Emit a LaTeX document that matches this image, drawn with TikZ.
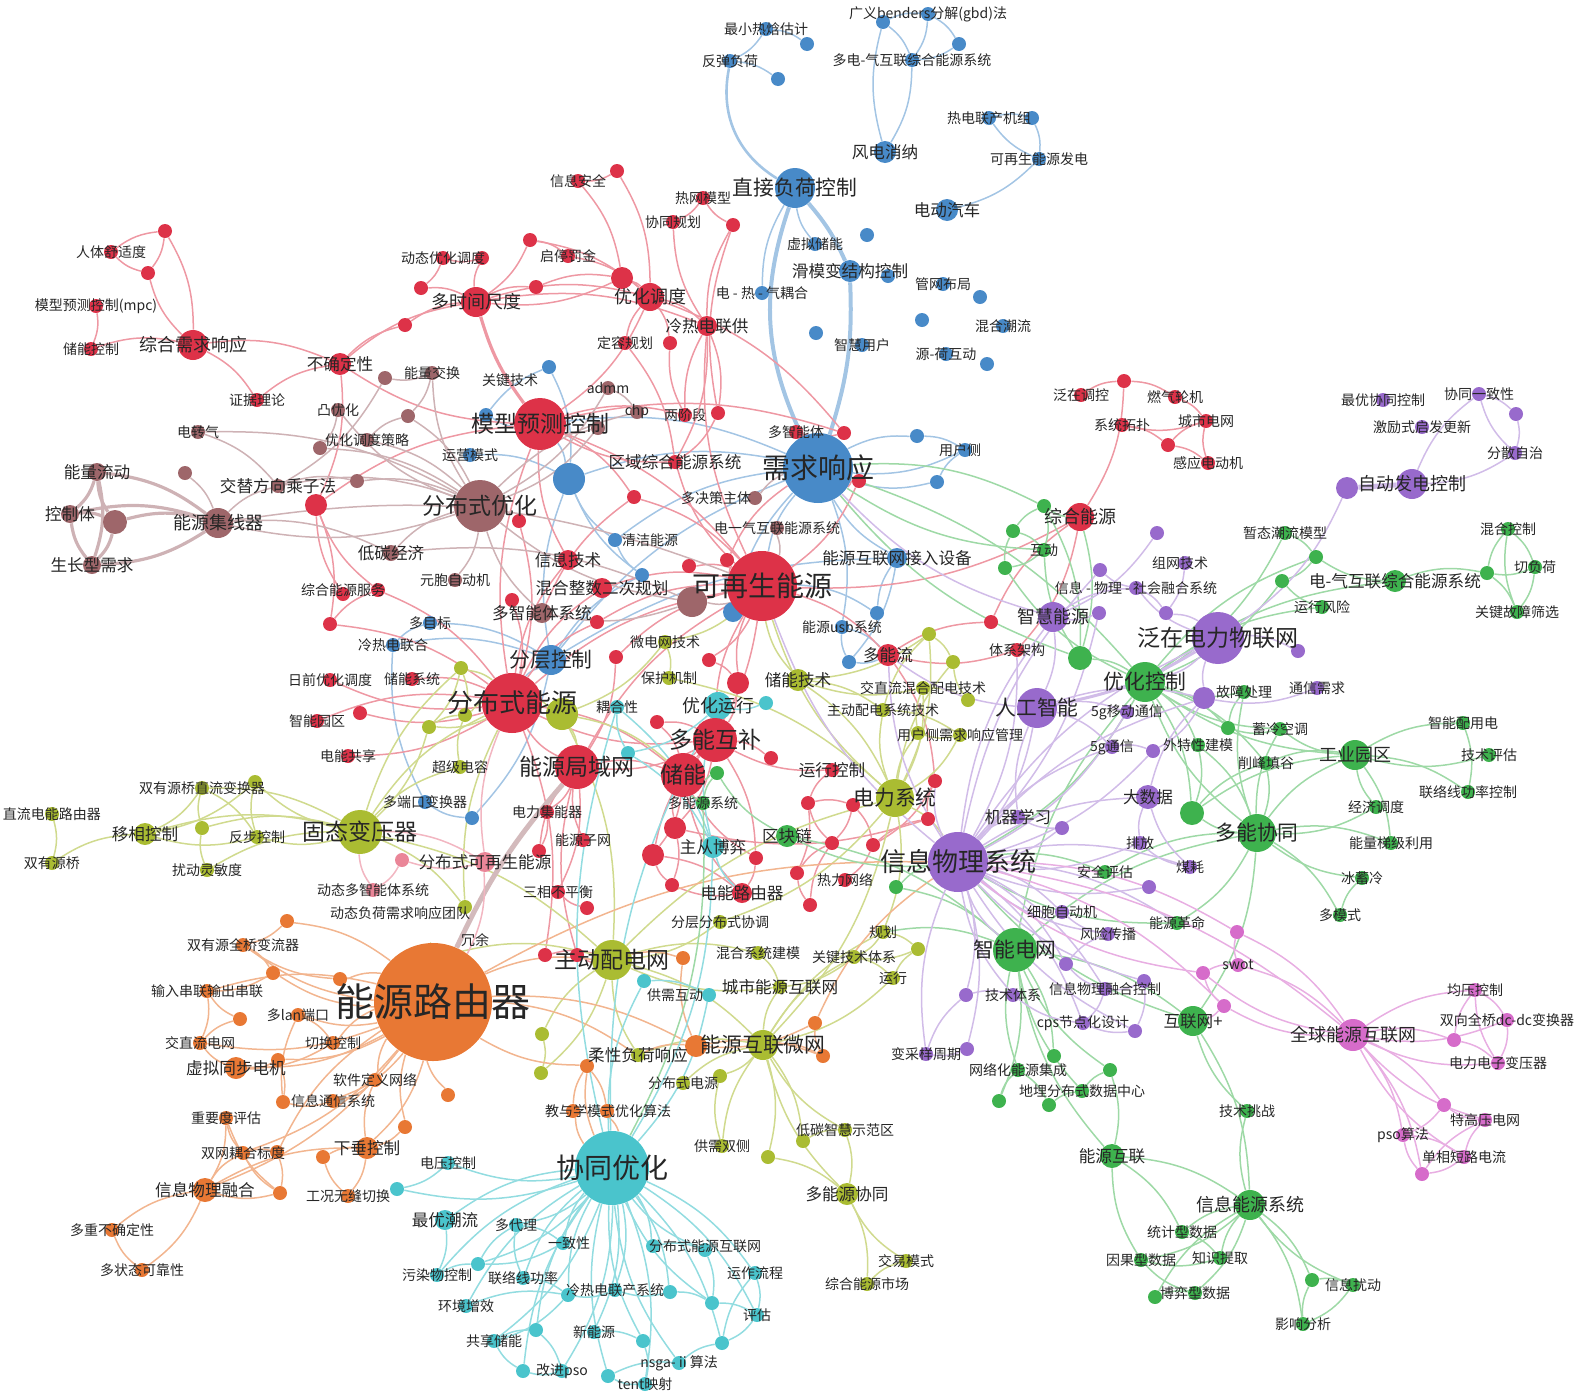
\documentclass[tikz,border=0pt]{standalone}
\usepackage{fontspec}
\newfontfamily\cjk{Noto Sans CJK SC}
\usetikzlibrary{positioning}
\pgfdeclarelayer{bg}
\pgfdeclarelayer{fg}
\pgfsetlayers{bg,main,fg}

\definecolor{cR}{RGB}{221,50,72}
\definecolor{cB}{RGB}{72,138,200}
\definecolor{cW}{RGB}{158,102,106}
\definecolor{cO}{RGB}{170,188,50}
\definecolor{cC}{RGB}{74,196,204}
\definecolor{cG}{RGB}{62,178,78}
\definecolor{cP}{RGB}{152,106,204}
\definecolor{cN}{RGB}{232,120,52}
\definecolor{cM}{RGB}{214,108,202}
\definecolor{cK}{RGB}{234,134,152}

% keyword: [label style]{name}{x,y}{dot style}{label}
\newcommand\kw[5][]{%
  \node[#4] (#2) at (#3) {};
  \begin{pgfonlayer}{fg}\node[tA,#1] at (#2) {#5};\end{pgfonlayer}}

\tikzset{
  dot/.style={circle, inner sep=0pt, minimum size=7pt, draw=none},
  sz/.style={minimum size=#1pt},
  dR/.style={dot, fill=cR}, dB/.style={dot, fill=cB}, dW/.style={dot, fill=cW},
  dO/.style={dot, fill=cO}, dC/.style={dot, fill=cC}, dG/.style={dot, fill=cG},
  dP/.style={dot, fill=cP}, dN/.style={dot, fill=cN}, dM/.style={dot, fill=cM},
  dK/.style={dot, fill=cK},
  tA/.style={inner sep=0pt, text=black!85, font=\cjk\fontsize{7}{8}\selectfont},
  tB/.style={font=\cjk\fontsize{8.3}{9}\selectfont},
  tC/.style={font=\cjk\fontsize{9}{10}\selectfont},
  tD/.style={font=\cjk\fontsize{10.4}{11}\selectfont},
  tE/.style={font=\cjk\fontsize{11.5}{12}\selectfont},
  tFs/.style={font=\cjk\fontsize{13}{14}\selectfont},
  tF/.style={font=\cjk\fontsize{14}{15}\selectfont},
  tG/.style={font=\cjk\fontsize{19.5}{20}\selectfont},
  eR/.style={draw=cR!50, line width=0.75pt},
  eB/.style={draw=cB!50, line width=0.75pt},
  eW/.style={draw=cW!50, line width=0.75pt},
  eO/.style={draw=cO!55, line width=0.75pt},
  eC/.style={draw=cC!60, line width=0.75pt},
  eG/.style={draw=cG!50, line width=0.75pt},
  eP/.style={draw=cP!45, line width=0.75pt},
  eN/.style={draw=cN!55, line width=0.75pt},
  eM/.style={draw=cM!55, line width=0.75pt},
  eK/.style={draw=cK!60, line width=0.75pt},
  eT/.style={draw=cW!45, line width=2.5pt},
}

\begin{document}
\begin{tikzpicture}[x=0.5pt,y=-0.5pt]
\useasboundingbox (0,0) rectangle (1575,1398);

% blue cluster
\node[dB] (gbd0) at (883,22) {};
\kw{gbd}{928,14}{dB}{广义benders分解(gbd)法}
\node[dB] (b1) at (959,44) {};
\kw{ddq}{912,60}{dB}{多电-气互联综合能源系统}
\kw{zxrh}{766,29}{dB}{最小热焓估计}
\node[dB] (b2) at (807,44) {};
\kw{ftfh}{730,61}{dB}{反弹负荷}
\node[dB] (b3) at (778,79) {};
\kw[tB]{fdxn}{885,152}{dB,sz=11}{风电消纳}
\kw{rdjz}{989,118}{dB}{热电联产机组}
\node[dB] (b4) at (1032,118) {};
\kw{kzfd}{1039,159}{dB}{可再生能源发电}
\kw[tB]{ddqc}{947,210}{dB,sz=11}{电动汽车}
\kw[tD]{zjfh}{795,188}{dB,sz=20}{直接负荷控制}
\kw{xncn}{815,244}{dB}{虚拟储能}
\node[dB] (b5) at (867,235) {};
\kw[tB]{hmbj}{850,271}{dB,sz=11}{滑模变结构控制}
\node[dB] (b6) at (888,276) {};
\kw{gwbj}{943,284}{dB}{管网布局}
\node[dB] (b7) at (980,297) {};
\node[dB] (b8) at (922,320) {};
\kw{hhcl}{1003,326}{dB}{混合潮流}
\node[dB] (b9) at (816,333) {};
\kw{zhyh}{862,345}{dB}{智慧用户}
\kw{yhhd}{946,354}{dB}{源-荷互动}
\node[dB] (b10) at (987,364) {};
\kw{drq}{762,293}{dB}{电 - 热 - 气耦合}
\kw[tF]{xqxy}{818,468}{dB,sz=35}{需求响应}
\node[dB] (b11) at (917,436) {};
\kw[xshift=-2.5pt]{yhc}{965,450}{dB}{用户侧}
\node[dB] (b12) at (937,482) {};
\kw[xshift=-19.5pt,yshift=-6.5pt]{gjjs}{549,367}{dB}{关键技术}
\node[dB] (b13) at (486,415) {};
\kw{yyms}{470,455}{dB}{运营模式}
\node[dB,sz=16] (b14) at (569,479) {};
\kw[xshift=17.5pt]{qjny}{615,540}{dB}{清洁能源}
\node[dB] (b15) at (642,575) {};
\node[dB,sz=10] (b16) at (733,612) {};
\kw[tD]{fcjz}{551,660}{dB,sz=15}{分层控制}
\kw{dmb}{430,623}{dB}{多目标}
\kw{lrdl}{393,645}{dB}{冷热电联合}
\kw{dkbh}{425,802}{dB}{多端口变换器}
\node[dB] (b17) at (472,818) {};
\kw[tB]{nyjr}{897,558}{dB,sz=10}{能源互联网接入设备}
\node[dB] (usb1) at (877,613) {};
\kw{usb}{842,627}{dB}{能源usb系统}
\node[dB] (b18) at (849,662) {};

% red and brown clusters
\kw{rtss}{111,252}{dR}{人体舒适度}
\node[dR] (r1) at (165,231) {};
\node[dR] (r2) at (148,273) {};
\kw{mpc}{96,306}{dR}{模型预测控制(mpc)}
\kw{cnkz}{91,349}{dR}{储能控制}
\kw[tC]{zhxq}{193,345}{dR,sz=15}{综合需求响应}
\kw[tB]{bqd}{340,364}{dR,sz=11}{不确定性}
\kw{zjll}{257,400}{dR}{证据理论}
\kw{tyh}{338,410}{dW}{凸优化}
\kw{dzq}{198,432}{dW}{电转气}
\kw{yhdc}{367,440}{dW}{优化调度策略}
\node[dW] (w1) at (320,448) {};
\node[dW] (w2) at (385,378) {};
\kw{nljh}{432,373}{dW}{能量交换}
\node[dW] (w3) at (408,416) {};
\kw[tC]{dsj}{476,302}{dR,sz=15}{多时间尺度}
\kw{dtyh}{443,258}{dR}{动态优化调度}
\node[dR] (r3) at (482,258) {};
\node[dR] (r4) at (421,288) {};
\node[dR] (r5) at (405,325) {};
\node[dR] (r6) at (530,240) {};
\kw{qtfj}{568,256}{dR}{启停罚金}
\node[dR] (r7) at (536,287) {};
\kw{xxaq}{578,181}{dR}{信息安全}
\node[dR] (r8) at (617,171) {};
\node[dR,sz=11] (r9) at (622,278) {};
\kw[tC]{yhdd}{650,297}{dR,sz=14}{优化调度}
\kw{rwmx}{703,198}{dR}{热网模型}
\kw{xtgh}{673,222}{dR}{协同规划}
\node[dR] (r10) at (733,225) {};
\kw[tB]{lrdg}{707,326}{dR,sz=10}{冷热电联供}
\kw{drgh}{625,343}{dR}{定容规划}
\node[dR] (r11) at (670,343) {};
\kw[tE]{mxyc}{540,424}{dR,sz=26}{模型预测控制}
\kw{admm}{608,388}{dW}{admm}
\kw{chp}{637,412}{dW}{chp}
\kw{ljd}{685,415}{dR}{两阶段}
\node[dR] (r12) at (718,413) {};
\node[dW] (w4) at (598,428) {};
\kw[tB]{qyzh}{675,462}{dR}{区域综合能源系统}
\kw[xshift=-19.5pt]{djc}{755,498}{dW}{多决策主体}
\kw{dqhl}{777,528}{dW}{电一气互联能源系统}
\node[dR] (r13) at (634,497) {};
\kw[tB]{xxjs}{568,560}{dR,sz=10}{信息技术}
\kw[tB]{hhzs}{602,588}{dR,sz=10}{混合整数二次规划}
\kw[tB]{dzxt}{542,613}{dW,sz=10}{多智能体系统}
\node[dR] (r14) at (512,600) {};
\node[dR] (r15) at (597,622) {};
\kw{ybzd}{455,580}{dW}{元胞自动机}
\kw[tB]{dtjj}{391,553}{dW,sz=8}{低碳经济}
\kw[tE]{fbyh}{480,506}{dW,sz=26}{分布式优化}
\node[dR] (r16) at (519,521) {};
\kw[tB]{jtfx}{278,486}{dW}{交替方向乘子法}
\node[dR,sz=11] (r17) at (316,505) {};
\node[dW] (w6) at (357,481) {};
\node[dW] (w7) at (185,473) {};
\kw[tC]{jxq}{218,523}{dW,sz=15}{能源集线器}
\kw[tB]{nlld}{97,472}{dW,sz=9}{能量流动}
\kw[tB]{kzt}{70,514}{dW,sz=9}{控制体}
\node[dW,sz=12] (w8) at (115,522) {};
\kw[tB]{szx}{92,565}{dW,sz=9}{生长型需求}
\kw[xshift=-17.5pt]{zhfw}{378,590}{dR}{综合能源服务}
\node[dR] (r18) at (343,594) {};
\node[dR] (r19) at (330,624) {};
\kw{rqyh}{330,680}{dR}{日前优化调度}
\kw{cnxt}{412,679}{dR}{储能系统}
\node[dR] (r20) at (360,713) {};
\kw{zyyq}{317,721}{dR}{智能园区}
\kw{dngx}{348,756}{dR}{电能共享}
\kw[tFs]{fbny}{512,703}{dR,sz=30}{分布式能源}
\node[dO,sz=16] (o1) at (562,714) {};
\node[dO] (o2) at (461,668) {};
\node[dO] (o3) at (429,727) {};
\node[dO] (o4) at (465,715) {};
\kw{ohx}{617,707}{dC}{耦合性}
\kw{wdjs}{665,642}{dO}{微电网技术}
\node[dR] (r21) at (616,657) {};
\node[dR] (r22) at (709,660) {};
\kw{bhjz}{669,678}{dO}{保护机制}
\node[dR,sz=11] (r23) at (738,683) {};
\kw[tC]{yhyx}{718,706}{dC,sz=14}{优化运行}
\kw[tE]{dnhb}{715,740}{dR,sz=22}{多能互补}
\node[dC] (c1) at (766,703) {};
\node[dR] (r24) at (657,722) {};
\kw[tE]{cn}{683,775}{dR,sz=22}{储能}
\node[dG] (g1) at (717,773) {};
\kw{dnyxt}{703,803}{dG}{多能源系统}
\kw[tE]{nyjy}{577,767}{dR,sz=22}{能源局域网}
\node[dC] (c2) at (628,753) {};
\node[dR] (r25) at (771,758) {};
\kw{cjdr}{460,767}{dO}{超级电容}
\kw{dljn}{547,812}{dR}{电力集能器}
\kw{nyzw}{583,840}{dR}{能源子网}
\node[dR] (r26) at (539,851) {};
\node[dR,sz=11] (r27) at (653,855) {};
\node[dR,sz=11] (r28) at (675,828) {};
\kw[tB]{fbkz}{485,862}{dK,sz=10}{分布式可再生能源}
\node[dK] (k1) at (402,860) {};
\kw[tB]{zcby}{713,847}{dC,sz=11}{主从博弈}
\node[dR] (r29) at (756,858) {};
\kw{sxbph}{558,892}{dR}{三相不平衡}
\node[dR] (r30) at (587,908) {};
\node[dR] (r31) at (672,885) {};
\kw[tB]{dnly}{742,893}{dR,sz=10}{电能路由器}
\kw{fcfb}{720,922}{dO}{分层分布式协调}
\kw{dtdz}{373,890}{dK}{动态多智能体系统}
\kw[xshift=-32.5pt,yshift=-3pt]{dtfh}{465,907}{dO}{动态负荷需求响应团队}
\kw[tF]{kzs}{762,586}{dR,sz=35}{可再生能源}
\node[dW,sz=15] (w9) at (692,602) {};
\node[dR] (r32) at (689,566) {};
\node[dR] (r33) at (727,560) {};
\kw[tB]{yxkz}{832,770}{dR}{运行控制}
\kw[tB]{dnl}{888,655}{dR,sz=11}{多能流}
\kw{txjg}{1017,650}{dR}{体系架构}
\node[dR] (r34) at (991,622) {};
\kw[tC]{zhny}{1080,517}{dR,sz=14}{综合能源}
\kw{fztk}{1081,395}{dR}{泛在调控}
\node[dR] (r35) at (1124,381) {};
\kw{rqlj}{1175,397}{dR}{燃气轮机}
\kw{xttp}{1122,425}{dR}{系统拓扑}
\kw{csdw}{1206,421}{dR}{城市电网}
\node[dR] (r36) at (1168,445) {};
\kw{gyddj}{1208,463}{dR}{感应电动机}
\node[dR] (r37) at (935,781) {};
\node[dR] (r38) at (928,819) {};
\node[dR] (r39) at (808,803) {};
\node[dR] (r40) at (853,805) {};
\node[dR] (r41) at (832,843) {};
\node[dR] (r42) at (873,845) {};
\node[dR] (r43) at (797,873) {};
\node[dR] (r44) at (810,905) {};
\kw{rlwl}{845,880}{dR}{热力网络}
\kw{dznt}{796,432}{dR}{多智能体}
\node[dR] (r47) at (844,433) {};
\node[dR] (r48) at (859,481) {};

% olive cluster
\kw[tE]{gtby}{360,832}{dO,sz=22}{固态变压器}
\node[dO] (syq1) at (255,782) {};
\kw{syq}{202,788}{dO}{双有源桥直流变换器}
\kw{zldn}{52,814}{dO}{直流电能路由器}
\kw{syyq}{52,863}{dO}{双有源桥}
\kw[tB]{yxkzO}{145,834}{dO,sz=11}{移相控制}
\node[dO] (o5) at (202,828) {};
\kw{fbkzO}{257,837}{dO}{反步控制}
\kw{rdlm}{207,870}{dO}{扰动灵敏度}
\kw[tE]{zdpd}{612,960}{dO,sz=20}{主动配电网}
\node[dR] (r45) at (545,955) {};
\node[dR] (r46) at (577,955) {};
\kw[xshift=16pt,yshift=8pt]{o6}{443,956}{dO}{冗余}
\kw[tB]{cshl}{780,987}{dO}{城市能源互联网}
\kw[xshift=-17pt]{gxhd}{709,995}{dC}{供需互动}
\node[dC] (c3) at (644,981) {};
\kw{hhjm}{758,953}{dO}{混合系统建模}
\kw[tD]{hlwl}{763,1045}{dO,sz=15}{能源互联微网}
\node[dO] (o7) at (542,1034) {};
\node[dO] (o8) at (541,1073) {};
\kw{fbdy}{683,1083}{dO}{分布式电源}
\node[dO] (o9) at (720,1076) {};
\kw{gxsc}{722,1146}{dO}{供需双侧}
\node[dO] (o10) at (768,1157) {};
\kw{gh}{883,932}{dO}{规划}
\kw{gjtx}{854,957}{dO}{关键技术体系}
\node[dO] (o11) at (918,949) {};
\kw{yx}{893,978}{dO}{运行}
\kw{dtzh}{845,1130}{dO}{低碳智慧示范区}
\node[dO] (o12) at (803,1141) {};
\kw[tB]{dnyx}{847,1194}{dO,sz=11}{多能源协同}
\kw{jyms}{906,1261}{dO}{交易模式}
\kw{zhsc}{867,1284}{dO}{综合能源市场}
\kw[tD]{dlxt}{895,798}{dO,sz=19}{电力系统}
\node[dO] (o13) at (929,634) {};
\node[dO] (o14) at (953,662) {};
\node[dO] (o15) at (968,700) {};
\kw{jzlh}{923,688}{dO}{交直流混合配电技术}
\kw{zdpx}{883,710}{dO}{主动配电系统技术}
\kw{yhcx}{960,735}{dO}{用户侧需求响应管理}
\node[dO] (o16) at (918,733) {};
\kw[tB]{cnjs}{798,680}{dO,sz=11}{储能技术}

% orange cluster
\kw[tG]{nyly}{433,1002}{dN,sz=59}{能源路由器}
\node[dN] (sqb1) at (287,921) {};
\kw{sqbl}{243,945}{dN}{双有源全桥变流器}
\node[dN] (n1) at (273,973) {};
\kw{srcl}{207,991}{dN}{输入串联输出串联}
\node[dN] (n2) at (240,1019) {};
\node[dN] (n3) at (340,979) {};
\kw{dlan}{298,1015}{dN}{多lan端口}
\kw{jzdw}{200,1043}{dN}{交直流电网}
\kw{qhkz}{333,1043}{dN}{切换控制}
\kw[tB]{xntb}{236,1068}{dN,sz=11}{虚拟同步电机}
\node[dN] (n4) at (278,1060) {};
\kw{rjdy}{375,1080}{dN}{软件定义网络}
\kw{xxtx}{333,1101}{dN}{信息通信系统}
\node[dN] (n5) at (283,1102) {};
\node[dN] (n6) at (448,1095) {};
\kw{zydp}{226,1118}{dN}{重要度评估}
\kw{swoh}{243,1153}{dN}{双网耦合标度}
\node[dN] (n7) at (277,1152) {};
\kw[tB]{xckz}{367,1148}{dN,sz=11}{下垂控制}
\node[dN] (n8) at (323,1157) {};
\node[dN] (n9) at (405,1127) {};
\kw[tB]{xxrh}{205,1190}{dN,sz=12}{信息物理融合}
\node[dN] (n10) at (280,1193) {};
\kw{gkwf}{348,1196}{dN}{工况无缝切换}
\node[dC] (c4) at (397,1189) {};
\kw{dcbq}{112,1230}{dN}{多重不确定性}
\kw{dzkk}{142,1270}{dN}{多状态可靠性}
\kw[tB]{rxfh}{638,1055}{dO}{柔性负荷响应}
\node[dN,sz=11] (n11) at (696,1046) {};
\node[dN] (n12) at (587,1066) {};
\kw[xshift=17.5pt]{jyx}{573,1111}{dN}{教与学模式优化算法}
\node[dN] (n13) at (607,1111) {};
\node[dN] (n14) at (683,958) {};
\node[dN] (n15) at (815,1023) {};
\node[dN] (n16) at (823,1056) {};

% cyan cluster
\kw[tF]{xtyh}{612,1168}{dC,sz=37}{协同优化}
\kw{dykz}{448,1163}{dC}{电压控制}
\kw[tB]{zycl}{445,1220}{dC,sz=10}{最优潮流}
\kw{ddl}{516,1225}{dC}{多代理}
\kw[xshift=3pt]{yzx}{563,1243}{dC}{一致性}
\kw[xshift=26pt]{fbnyh}{653,1246}{dC}{分布式能源互联网}
\node[dC] (c5) at (705,1250) {};
\kw{yzlc}{755,1273}{dC}{运作流程}
\kw{wrw}{437,1275}{dC}{污染物控制}
\node[dC] (c6) at (478,1264) {};
\kw{llxgl}{523,1278}{dC}{联络线功率}
\kw{lrcx}{615,1290}{dC}{冷热电联产系统}
\node[dC] (c7) at (568,1295) {};
\node[dC] (c8) at (670,1292) {};
\node[dC] (c9) at (712,1303) {};
\kw{pg}{757,1315}{dC}{评估}
\kw{hjzx}{466,1306}{dC}{环境增效}
\kw{gxcn}{494,1341}{dC}{共享储能}
\node[dC] (c10) at (536,1330) {};
\kw{xny}{594,1332}{dC}{新能源}
\node[dC] (c11) at (643,1341) {};
\node[dC] (c12) at (722,1343) {};
\kw{nsga}{679,1363}{dC}{nsga-ⅱ算法}
\kw{gjpso}{562,1371}{dC}{改进pso}
\node[dC] (c13) at (523,1371) {};
\kw{tent}{645,1384}{dC}{tent映射}
\node[dC] (c14) at (608,1376) {};

% purple cluster
\kw[tC]{zdfd}{1412,484}{dP,sz=15}{自动发电控制}
\node[dP,sz=11] (p1) at (1347,488) {};
\kw{zyxt}{1383,400}{dP}{最优协同控制}
\kw{xtyz}{1479,394}{dP}{协同一致性}
\node[dP] (p2) at (1516,414) {};
\kw{jlqf}{1422,427}{dP}{激励式启发更新}
\kw{fszz}{1515,453}{dP}{分散自治}
\kw[tC]{zhny2}{1053,617}{dP,sz=15}{智慧能源}
\node[dP] (p3) at (1157,533) {};
\kw[xshift=-2.5pt]{zwjs}{1185,563}{dP}{组网技术}
\kw{xwsh}{1136,588}{dP}{信息 - 物理 - 社会融合系统}
\node[dP] (p4) at (1100,570) {};
\node[dP] (p5) at (1099,613) {};
\node[dP] (p6) at (1166,613) {};
\kw[tE]{fzdl}{1218,638}{dP,sz=26}{泛在电力物联网}
\node[dP] (p7) at (1298,651) {};
\kw[tD]{rgzn}{1037,708}{dP,sz=20}{人工智能}
\kw{ydtx}{1127,712}{dP}{5g移动通信}
\kw{tx5g}{1112,747}{dP}{5g通信}
\node[dP] (p8) at (1153,751) {};
\node[dP,sz=11] (p9) at (1204,698) {};
\kw{txxq}{1317,688}{dP}{通信需求}
\kw{mh}{1190,867}{dP}{煤耗}
\kw{pf}{1140,843}{dP}{排放}
\kw[tB]{dsjP}{1148,797}{dP,sz=12}{大数据}
\node[dP] (p10) at (1062,828) {};
\kw[tB]{jqxx}{1018,817}{dP}{机器学习}
\node[dP] (p11) at (1149,887) {};
\kw[tFs]{xxwl}{958,862}{dP,sz=30}{信息物理系统}
\kw{xbzd}{1062,912}{dP}{细胞自动机}
\kw{fxcb}{1108,934}{dP}{风险传播}
\node[dP] (p12) at (1066,964) {};
\kw{jstx}{1013,995}{dP}{技术体系}
\kw{xxkz}{1105,989}{dP}{信息物理融合控制}
\node[dP] (p13) at (1144,981) {};
\kw{cps}{1083,1023}{dP}{cps节点化设计}
\node[dP] (p14) at (1135,1031) {};
\node[dP] (p15) at (966,995) {};
\kw{bcy}{926,1054}{dP}{变采样周期}
\node[dP] (p16) at (967,1049) {};

% green cluster
\node[dG] (g2) at (1044,506) {};
\kw{hd}{1044,550}{dG}{互动}
\node[dG] (g3) at (1013,531) {};
\node[dG] (g4) at (1005,568) {};
\node[dG,sz=12] (g5) at (1080,658) {};
\kw[tD]{yhkz}{1145,682}{dG,sz=20}{优化控制}
\kw{wtx}{1198,745}{dG}{外特性建模}
\kw{gzcl}{1244,692}{dG}{故障处理}
\node[dG] (g6) at (1228,728) {};
\kw{lkkt}{1280,729}{dG}{蓄冷空调}
\kw{xftg}{1266,763}{dG}{削峰填谷}
\kw[tC]{gyyq}{1355,755}{dG,sz=15}{工业园区}
\kw{znpy}{1463,723}{dG}{智能配用电}
\kw{jspg}{1489,755}{dG}{技术评估}
\kw{llxk}{1468,792}{dG}{联络线功率控制}
\kw{jjdd}{1376,807}{dG}{经济调度}
\kw{tjly}{1391,843}{dG}{能量梯级利用}
\kw[tD]{dnxt}{1257,833}{dG,sz=19}{多能协同}
\node[dG,sz=12] (g7) at (1192,813) {};
\kw{bxl}{1362,878}{dG}{冰蓄冷}
\kw{dms}{1340,915}{dG}{多模式}
\kw{aqpg}{1105,872}{dG}{安全评估}
\kw{nygm}{1177,923}{dG}{能源革命}
\kw[tB]{qkl}{787,836}{dG,sz=11}{区块链}
\node[dG] (g8) at (896,887) {};
\kw[tD]{zndw}{1015,950}{dG,sz=22}{智能电网}
\kw{wlnj}{1018,1070}{dG}{网络化能源集成}
\node[dG] (g9) at (1054,1056) {};
\kw{dmfb}{1082,1091}{dG}{地埋分布式数据中心}
\node[dG] (g10) at (1049,1105) {};
\node[dG] (g11) at (999,1101) {};
\node[dG] (g12) at (1110,1070) {};
\kw[tB]{hlw}{1193,1021}{dG,sz=15}{互联网+}
\kw[tB]{nyhl}{1112,1156}{dG,sz=12}{能源互联}
\kw{jstz}{1247,1111}{dG}{技术挑战}
\kw[tC]{xxny}{1250,1205}{dG,sz=15}{信息能源系统}
\kw{tjsj}{1182,1232}{dG}{统计型数据}
\kw{yglx}{1141,1260}{dG}{因果型数据}
\kw{zstq}{1220,1258}{dG}{知识提取}
\kw{bysj}{1195,1293}{dG}{博弈型数据}
\node[dG] (g13) at (1155,1297) {};
\kw{xxrd}{1353,1285}{dG}{信息扰动}
\node[dG] (g14) at (1312,1280) {};
\kw{yxfx}{1303,1324}{dG}{影响分析}
\kw[tB]{dqhl2}{1395,581}{dG,sz=11}{电-气互联综合能源系统}
\kw{zlcl}{1285,533}{dG}{暂态潮流模型}
\node[dG] (g15) at (1316,557) {};
\node[dG] (g16) at (1282,581) {};
\kw{yxfxR}{1322,607}{dG}{运行风险}
\kw{hhkz}{1508,529}{dG}{混合控制}
\node[dG] (g17) at (1487,573) {};
\kw{qfh}{1535,567}{dG}{切负荷}
\kw{gjgz}{1517,612}{dG}{关键故障筛选}

% magenta cluster
\kw[tC]{qqny}{1353,1035}{dM,sz=16}{全球能源互联网}
\kw{swot}{1238,965}{dM}{swot}
\node[dM] (m1) at (1203,973) {};
\node[dM] (m2) at (1237,932) {};
\node[dM] (m3) at (1224,1006) {};
\kw{yykz}{1475,990}{dM}{均压控制}
\kw{sxqq}{1507,1020}{dM}{双向全桥dc-dc变换器}
\node[dM] (m4) at (1454,1040) {};
\kw{dlzd}{1498,1063}{dM}{电力电子变压器}
\node[dM] (m5) at (1444,1105) {};
\kw{tgy}{1485,1120}{dM}{特高压电网}
\kw{pso}{1403,1135}{dM}{pso算法}
\kw{dxdl}{1464,1157}{dM}{单相短路电流}
\node[dM] (m6) at (1422,1174) {};

\begin{pgfonlayer}{bg}
% blue links
\foreach \a/\b in {gbd0/gbd, gbd0/ddq, gbd/b1, gbd/ddq, b1/ddq, ddq/fdxn, fdxn/gbd0, zxrh/b2, zxrh/ftfh, ftfh/b3, rdjz/b4, b4/kzfd, kzfd/rdjz, kzfd/ddqc, drq/zjfh, xncn/zjfh, xqxy/b11, b11/yhc, yhc/xqxy, b12/xqxy, b12/yhc, nyjr/xqxy, usb1/nyjr, fcjz/nyjr, b14/xqxy, mxyc/xqxy, fcjz/xqxy, qjny/xqxy, b16/xqxy, kzs/xqxy, gjjs/b14, qjny/b14, fcjz/b14, mxyc/b14, b15/b14, b13/gjjs, mxyc/b13, yyms/b14, b15/qjny, fcjz/b15, dmb/fcjz, lrdl/fcjz, fbny/fcjz, lrdl/dmb, dkbh/lrdl, b17/dkbh, fcjz/b17, b18/usb, xqxy/usb, nyjr/b18, kzs/usb1, kzs/b16, dnl/b18, usb/dnl}
  \draw[eB] (\a) to[bend left=15] (\b);
\draw[eB, line width=2pt] (zjfh) to[bend right=22] (xqxy);
\draw[eB, line width=2pt] (zjfh) to[bend left=8] (hmbj);
\draw[eB, line width=2pt] (hmbj) to[bend left=10] (xqxy);
\draw[eB, line width=1.3pt] (ftfh) to[bend right=35] (zjfh);
% red links
\foreach \a/\b in {rtss/r1, r2/rtss, r1/r2, r1/zhxq, zhxq/r2, mpc/cnkz, cnkz/zhxq, zhxq/bqd, zhxq/zjll, zjll/bqd, bqd/r5, bqd/dsj, mxyc/bqd, bqd/r17, r5/dsj, r4/dsj, dtyh/r4, r3/dtyh, dsj/r3, r6/dsj, r6/qtfj, r6/yhdd, qtfj/yhdd, dsj/r7, r7/r9, dsj/yhdd, r9/dsj, dsj/lrdg, r8/xxaq, xxaq/r9, r8/yhdd, r9/yhdd, yhdd/mxyc, yhdd/lrdg, drgh/yhdd, yhdd/r11, rwmx/xtgh, r10/rwmx, lrdg/xtgh, lrdg/r10, r12/r10, ljd/lrdg, lrdg/r12, lrdg/qyzh, kzs/lrdg, drgh/qyzh, ljd/r11, mxyc/ljd, qyzh/mxyc, mxyc/r13, fbny/mxyc, mxyc/kzs, xxjs/mxyc, r17/mxyc, r12/qyzh, kzs/qyzh, r13/kzs, dzxt/r13, fbny/xxjs, hhzs/kzs, fbny/hhzs, r14/fbny, r15/kzs, fbny/r15, r16/fbny, fbny/kzs, nyjy/fbny, r19/fbny, fbny/rqyh, cnxt/fbny, fbny/r20, zyyq/fbny, fbny/dngx, dnhb/fbny, fbny/cn, zhfw/fbny, r19/zhfw, zhfw/r17, r18/r17, r17/r19, dnhb/kzs, kzs/cn, nyjy/kzs, r21/kzs, kzs/r22, r23/kzs, kzs/dnl, r32/kzs, kzs/r33, zhny/kzs, cn/dnhb, dnhb/nyjy, r24/dnhb, dnhb/r25, r27/dnhb, dnhb/r28, nyjy/cn, cn/r27, r28/cn, dnly/cn, nyjy/dljn, nyzw/nyjy, r26/nyjy, nyjy/sxbph, r21/nyjy, r31/r27, r38/r28, dnly/r31, r30/sxbph, yxkz/dnhb, r39/yxkz, r39/r40, r41/r39, r40/r42, r43/r41, r44/r43, r42/rlwl, r38/r37, dnl/r37, r42/r38, txjg/dnl, dnl/r34, r34/zhny, zhny/txjg, r35/zhny, fztk/r35, r35/rqlj, rqlj/csdw, csdw/xttp, gyddj/csdw, r36/csdw, xttp/r36, r36/gyddj, r45/zdpd, zdpd/r46, fbny/r45, r46/nyjy, dznt/xqxy, r47/dznt, r48/xqxy, r48/kzs, mxyc/r47, yhdd/r47, r23/dnhb, r29/dnly, r29/cn, dnhb/r29, r44/r41, r39/r43, r40/r41, r37/r42, r33/xqxy, r22/r23, r24/cn, dljn/r26, r27/dnly, r28/r31}
  \draw[eR] (\a) to[bend left=15] (\b);
\draw[eR, line width=1.6pt] (mxyc) to[bend left=10] (dsj);
% brown links
\foreach \a/\b in {w7/jxq, jxq/jtfx, fbyh/jxq, jxq/dtjj, jtfx/w6, jtfx/fbyh, w2/jtfx, w6/fbyh, w1/fbyh, yhdc/fbyh, fbyh/tyh, dzq/jtfx, dzq/fbyh, nljh/w2, fbyh/nljh, w3/fbyh, dtjj/fbyh, fbyh/ybzd, dzxt/fbyh, admm/fbyh, fbyh/chp, kzs/w9, w9/dzxt, w9/fbyh, djc/xqxy, dqhl/kzs, admm/chp, w4/mxyc, w4/fbyh, tyh/w1, yhdc/w3, nljh/w3, jxq/kzs, dtjj/w9}
  \draw[eW] (\a) to[bend left=15] (\b);
\foreach \a/\b in {nlld/kzt, w8/nlld, nlld/szx, kzt/w8, szx/kzt, w8/szx, nlld/jxq, kzt/jxq, w8/jxq, jxq/szx}
  \draw[eW, line width=1.6pt] (\a) to[bend left=15] (\b);
% olive links
\foreach \a/\b in {gtby/syq1, syq/gtby, o5/gtby, gtby/fbkzO, yxkzO/gtby, rdlm/gtby, gtby/fbny, gtby/zdpd, o3/gtby, gtby/cjdr, syq/yxkzO, o5/syq, syq/fbkzO, fbkzO/syq1, syq1/yxkzO, zldn/syyq, syyq/yxkzO, fbkzO/yxkzO, rdlm/o5, o2/fbny, fbny/o3, o4/fbny, fbny/o1, o1/nyjy, o2/o3, gtby/o2, zdpd/hlwl, cshl/zdpd, zdpd/hhjm, o7/zdpd, zdpd/o8, rxfh/zdpd, zdpd/dlxt, hlwl/cshl, fbdy/hlwl, hlwl/o9, gxsc/hlwl, hlwl/o10, rxfh/hlwl, dtzh/hlwl, hlwl/gjtx, yx/hlwl, gjtx/cshl, hhjm/cshl, gh/gjtx, o11/gjtx, gjtx/yx, gh/o11, yx/o11, o12/dtzh, dtzh/dnyx, jyms/dnyx, dnyx/zhsc, zhsc/jyms, hlwl/o12, o7/o8, cnjs/dlxt, o13/dlxt, dlxt/o14, jzlh/dlxt, dlxt/zdpx, yhcx/dlxt, dlxt/o16, jzlh/cnjs, cnjs/zdpx, o13/o14, o15/o14, jzlh/o15, zdpx/o13, yhcx/o16, zdpx/yhcx, o16/jzlh, wdjs/bhjz, kzs/wdjs, bhjz/dlxt, cnjs/kzs, gtby/dtfh, dtfh/fbny, fcfb/zdpd, dlxt/fcfb, nyly/o6, o6/zdpd, o1/zdpd, dlxt/hlwl, cjdr/o4, o1/cn, o10/dnyx, gxsc/o9, hlwl/gh, dlxt/gh, dnyx/hlwl, o13/cnjs, dlxt/kzs, wdjs/o1, o2/o4, o3/o4, dlxt/xxwl}
  \draw[eO] (\a) to[bend left=15] (\b);
% orange links
\foreach \a/\b in {sqb1/nyly, nyly/n1, n3/nyly, nyly/dlan, qhkz/nyly, nyly/xntb, rjdy/nyly, nyly/xxtx, n6/nyly, nyly/xckz, n9/nyly, nyly/swoh, n7/nyly, nyly/xxrh, nyly/jzdw, srcl/nyly, nyly/sqbl, nyly/n11, n12/nyly, sqbl/n1, sqb1/sqbl, srcl/jzdw, n2/srcl, jzdw/n2, xntb/jzdw, n4/xntb, qhkz/xntb, n4/n5, xxtx/n5, dlan/qhkz, n5/dlan, xckz/rjdy, rjdy/xxtx, swoh/zydp, zydp/xxrh, n10/zydp, xxrh/swoh, swoh/n7, n10/swoh, n7/n10, n10/xxrh, dcbq/xxrh, xxrh/dzkk, dzkk/dcbq, n8/xckz, xckz/gkwf, gkwf/n8, n9/xckz, rxfh/n11, n11/n14, n15/n11, n11/n16, jyx/n12, n12/n13, xtyh/jyx, n13/xtyh, n16/n15, zdpd/n14, hlwl/n16, nyly/xxwl, nyly/zdpd, nyly/rxfh, xxrh/xckz, n1/srcl, n3/sqbl, xtyh/n12, nyly/n4, n15/xxwl}
  \draw[eN] (\a) to[bend left=15] (\b);
\draw[eT] (nyly) to[bend left=8] (nyjy);
% cyan links
\foreach \a/\b in {xtyh/dykz, zycl/xtyh, xtyh/ddl, yzx/xtyh, xtyh/fbnyh, c5/xtyh, xtyh/yzlc, wrw/xtyh, xtyh/c6, llxgl/xtyh, xtyh/lrcx, c7/xtyh, xtyh/c8, c9/xtyh, xtyh/pg, hjzx/xtyh, xtyh/gxcn, c10/xtyh, xtyh/xny, c11/xtyh, xtyh/c12, nsga/xtyh, xtyh/gjpso, c13/xtyh, xtyh/tent, c14/xtyh, xtyh/c4, gxhd/xtyh, xtyh/c3, zcby/xtyh, xtyh/yhyx, zycl/wrw, c6/ddl, ddl/yzx, llxgl/ddl, wrw/c6, yzx/c6, hjzx/c7, c7/gxcn, gxcn/c10, c13/gxcn, gjpso/c13, c10/gjpso, xny/c11, c11/tent, tent/c14, c14/nsga, nsga/c12, pg/c12, c9/pg, c5/c9, yzlc/pg, c12/yzlc, fbnyh/c5, c8/c9, dykz/c4, ohx/zcby, zcby/yhyx, c1/yhyx, yhyx/c2, c2/ohx, dnly/zcby, c3/gxhd, lrcx/c7, c8/lrcx, llxgl/c7, xtyh/ohx, c2/zcby}
  \draw[eC] (\a) to[bend left=15] (\b);
% green links
\foreach \a/\b in {xqxy/g2, hd/xqxy, xqxy/yhkz, g5/xqxy, g2/hd, g3/g2, g4/g3, hd/g4, g3/hd, g2/g5, g5/hd, yhkz/g4, g5/yhkz, zhny/g2, zhny/g5, yhkz/wtx, gzcl/yhkz, yhkz/g6, lkkt/yhkz, yhkz/xftg, dnxt/yhkz, yhkz/g7, gyyq/yhkz, yhkz/dqhl2, zlcl/yhkz, yhkz/g15, g16/yhkz, yhkz/yxfxR, zndw/yhkz, zlcl/g15, g15/g16, dqhl2/g15, yxfxR/g16, dqhl2/g17, g17/hhkz, qfh/g17, g17/gjgz, hhkz/qfh, gjgz/hhkz, qfh/gjgz, gyyq/znpy, jspg/gyyq, gyyq/llxk, jjdd/gyyq, gyyq/tjly, xftg/gyyq, gyyq/lkkt, dnxt/gyyq, g7/gyyq, znpy/llxk, dnxt/g7, xftg/dnxt, dnxt/lkkt, bxl/dnxt, dnxt/dms, jjdd/dnxt, dnxt/tjly, wtx/dnxt, dnxt/gzcl, dms/bxl, wtx/g7, g6/gzcl, lkkt/g6, wlnj/zndw, zndw/g9, dmfb/zndw, zndw/g11, g12/zndw, zndw/hlw, gh/zndw, wlnj/g10, g10/dmfb, g11/wlnj, dmfb/g12, hlw/xxny, jstz/hlw, hlw/xxwl, dnxt/hlw, nyhl/xxny, yglx/nyhl, nyhl/tjsj, g12/nyhl, xxny/jstz, tjsj/xxny, xxny/yglx, zstq/xxny, xxny/bysj, g13/xxny, xxny/g14, xxrd/xxny, xxny/yxfx, tjsj/zstq, bysj/yglx, g13/bysj, zstq/yglx, g14/xxrd, yxfx/g14, xxrd/yxfx, qkl/g1, xxwl/qkl, g8/xxwl, xxwl/aqpg, aqpg/dnxt, dnxt/nygm, nygm/xxwl, zndw/dnxt, yhkz/xxwl, g1/cn, qkl/zndw, g8/zndw, nyhl/zndw, g7/xftg, dnyxt/g1, dnyxt/cn, dnyxt/xtyh}
  \draw[eG] (\a) to[bend left=15] (\b);
% purple links
\foreach \a/\b in {rgzn/xxwl, xxwl/jqxx, p10/xxwl, xxwl/dsjP, pf/xxwl, xxwl/mh, p11/xxwl, xxwl/xbzd, fxcb/xxwl, xxwl/p12, jstx/xxwl, xxwl/xxkz, p13/xxwl, xxwl/cps, p14/xxwl, xxwl/p15, bcy/xxwl, xxwl/p16, zndw/xxwl, xxwl/fzdl, ydtx/xxwl, xxwl/tx5g, p8/xxwl, xxwl/zhny2, txjg/xxwl, xxwl/p9, p5/xxwl, xxwl/p4, zdfd/xtyz, fszz/zdfd, xtyz/p2, fszz/xtyz, p2/fszz, fzdl/p7, p9/fzdl, fzdl/xwsh, p6/fzdl, fzdl/yhkz, zhny2/rgzn, rgzn/ydtx, jqxx/rgzn, rgzn/tx5g, p5/zhny2, zhny2/xwsh, xwsh/p4, p3/zhny2, zwjs/p6, txxq/p9, dsjP/p9, pf/dsjP, mh/dsjP, mh/pf, p10/jqxx, fxcb/xbzd, p12/fxcb, xxkz/p12, p13/xxkz, xxkz/cps, p14/cps, p13/p14, p15/jstx, p16/bcy, bcy/p15, cps/jstx, p9/p8, tx5g/p8, xwsh/p6, rgzn/p9, zhny2/xqxy, xxwl/kzs, xxwl/dnl, xxwl/r37, rgzn/dnl, xxwl/nygm, p1/fzdl}
  \draw[eP] (\a) to[bend left=15] (\b);
\draw[eP, line width=2.5pt] (zdfd) to (p1);
\draw[eP, line width=1.5pt] (fzdl) to[bend left=10] (rgzn);
% magenta links
\foreach \a/\b in {xxwl/m2, m1/xxwl, xxwl/m3, m1/swot, swot/m2, m3/m1, swot/qqny, qqny/m1, m2/qqny, qqny/m3, qqny/yykz, sxqq/qqny, qqny/m4, dlzd/qqny, qqny/m5, tgy/qqny, qqny/pso, dxdl/qqny, qqny/m6, yykz/sxqq, dlzd/yykz, m4/yykz, sxqq/dlzd, m4/dlzd, tgy/m5, m5/pso, dxdl/tgy, pso/dxdl, m6/pso, dxdl/m6, m6/tgy, m3/hlw, xxwl/qqny}
  \draw[eM] (\a) to[bend left=15] (\b);
% pink links
\foreach \a/\b in {fbkz/k1, gtby/fbkz, fbkz/fbny, k1/dtdz, dtdz/gtby, fbkz/nyly}
  \draw[eK] (\a) to[bend left=15] (\b);
\end{pgfonlayer}
\end{tikzpicture}
\end{document}
